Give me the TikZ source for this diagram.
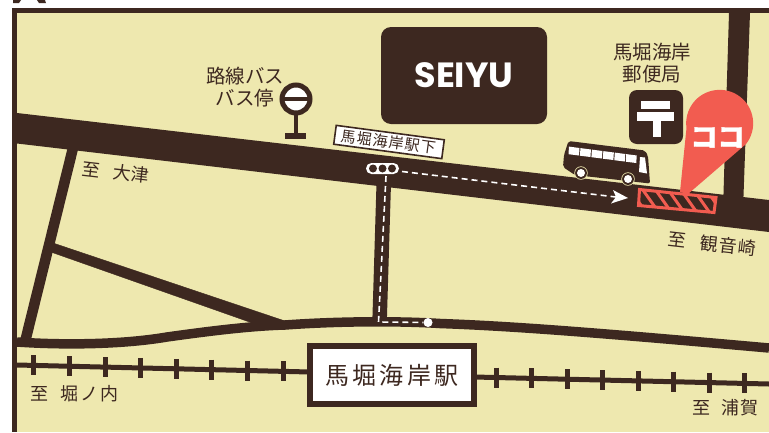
\documentclass[tikz,border=0pt]{standalone}
\usepackage{fontspec}
\setmainfont{Noto Sans CJK JP}
\newfontfamily\latinbold{Poppins}
\definecolor{ink}{HTML}{3D2820}
\definecolor{paper}{HTML}{EEE8AF}
\definecolor{coral}{HTML}{F25C50}
\tikzset{
 road/.style={draw=ink,line cap=butt},
 lbl/.style={text=ink,inner sep=0pt,font=\fontsize{18}{22}\selectfont,align=center},
 route/.style={draw=white,line width=1.6,dash pattern=on 6 off 4},
 tie/.style={draw=ink,line width=5},
}
\begin{document}
\begin{tikzpicture}[x=1pt,y=-1pt]
\useasboundingbox (0,0) rectangle (769,432);
\fill[white] (0,0) rectangle (769,432);
\fill[ink] (13,0) -- (21,0) -- (19,3) -- (13,3) -- cycle;
\fill[ink] (37,0) -- (45,0) -- (46,3) -- (39,3) -- cycle;
\fill[ink] (12,8) rectangle (769,432);
\fill[paper] (17,13) rectangle (769,432);
% vertical road right
\fill[ink] (729,13) -- (750,13) -- (743,210) -- (723,210) -- cycle;
% minor roads
\draw[road,line width=10.5] (73,148) -- (25,342);
\draw[ink,fill=ink] (50,241) -- (53,243) -- (285,321) -- (258,325) -- (48,251) -- cycle;
\draw[road,line width=14.5] (384,175) -- (379.5,324);
% main road
\fill[ink] (17,113) -- (769,200) -- (769,232) -- (17,143.5) -- cycle;
% curved road
\draw[road,line width=9.5] (17,342) .. controls (60,345) and (120,345) .. (167,337) .. controls (210,331) and (250,326) .. (285,325) .. controls (340,321) and (400,321) .. (440,323.5) .. controls (510,326) and (590,332) .. (769,348);
% rails
\draw[ink,line width=5] (17,365) -- (310,372);
\draw[ink,line width=5] (474,377) -- (769,384);
\foreach \x/\y in {33/365.4,69/366.3,105/367.1,140/367.9,176/368.8,211/369.6,247/370.5,283/371.3,496/377.5,531/378.3,567/379.2,602/380,638/380.8,673/381.7,709/382.5,744/383.4}
  \draw[tie] (\x,\y-10) -- (\x,\y+10);
% station
\node[draw=ink,line width=6,fill=white,minimum width=164,minimum height=58,inner sep=0pt,text=ink,font=\fontsize{24}{28}\selectfont,anchor=center] (station) at (392,375) {\addfontfeature{LetterSpace=13}馬堀海岸駅};
% seiyu
\node[fill=ink,rounded corners=10,minimum width=166,minimum height=97,inner sep=0pt,text=white] (seiyu) at (464,75.5) {\fontsize{35}{40}\selectfont\latinbold\bfseries SEIYU};
% bus stop
\node[lbl] (stoplabel) at (245,87) {\fontsize{19.5}{23}\selectfont 路線バス\\[0pt]\fontsize{19.5}{23}\selectfont バス停};
\fill[ink] (294,112) rectangle (298,134);
\fill[ink] (285,133) rectangle (306,138.5);
\draw[ink,line width=5,fill=white] (296,99) circle (14);
\fill[ink] (282,96.5) rectangle (310,101);
% post office
\node[lbl] (postlabel) at (652,63.5) {\fontsize{19.5}{21}\selectfont 馬堀海岸\\\fontsize{19.5}{21}\selectfont 郵便局};
\fill[ink,rounded corners=8] (629,90) rectangle (683,144);
\fill[white] (641,101) rectangle (670,109);
\fill[white] (637,112) rectangle (674,121);
\fill[white] (653,121) rectangle (661,137);
% bus
\fill[ink,rounded corners=2] (568.5,141) -- (645,150.5) -- (648,156) -- (650,183.5) -- (575,175) -- (563,167) -- (564,155) -- cycle;
\foreach \i in {0,...,5}{
 \fill[white] ({569+\i*11.45},{146.6+\i*1.5}) -- ({579.5+\i*11.45},{148+\i*1.5}) -- ({579+\i*11.45},{155.5+\i*1.5}) -- ({568.5+\i*11.45},{154.2+\i*1.5}) -- cycle;
}
\fill[white] (640,157) -- (645,157.5) -- (647,173.5) -- (639,172) -- cycle;
\foreach \x/\y in {581/173,628/179}{
 \fill[paper] (\x,\y) circle (6.7);
 \fill[ink] (\x,\y) circle (5.9);
 \fill[white] (\x,\y) circle (4);
}
% stop sign
\node[draw=ink,line width=1.6,fill=white,rotate=-7.6,minimum width=109,minimum height=19,inner sep=0pt,text=ink,font=\fontsize{15}{17}\selectfont] (sign) at (389,142) {\addfontfeature{LetterSpace=8}馬堀海岸駅下};
% signal
\fill[white,rounded corners=5.5] (366,163) rectangle (399,174);
\foreach \x in {373,382.5,392} \fill[ink] (\x,168.5) circle (4);
% routes
\coordinate (startA) at (402,171.5);
\coordinate (endA) at (616,197);
\coordinate (tipA) at (628,198);
\draw[route] (startA) -- (endA);
\fill[white] (tipA) -- (611,203.5) -- (616,197) -- (613,190) -- cycle;
\coordinate (startB) at (386,176);
\coordinate (cornerB) at (378.5,322);
\node[circle,fill=white,minimum size=9,inner sep=0pt] (dot) at (428,322.5) {};
\draw[route] (startB) -- (cornerB) -- (dot);
% hatched spot
\begin{scope}
\clip (639.5,189.5) -- (716,197.5) -- (714,212.5) -- (638.5,205.5) -- cycle;
\fill[ink] (630,180) rectangle (725,220);
\foreach \i in {0,...,7}
 \draw[coral,line width=3] ({626+\i*12.7},184) -- ({650+\i*12.7},218);
\end{scope}
\draw[coral,line width=3] (639.5,189.5) -- (716,197.5) -- (714,212.5) -- (638.5,205.5) -- cycle;
% pin
\fill[coral] (680,192) -- (686.5,128) arc[start angle=188,end angle=-38,radius=33.5,x radius=33.5,y radius=-33.5] -- (688,194) -- cycle;
\node[text=white,inner sep=0pt,font=\fontsize{27}{30}\selectfont\bfseries] (koko) at (717.5,137.5) {\addfontfeature{FakeBold=1.5}ココ};
% destinations
\node[lbl,font=\fontsize{18}{20}\selectfont,rotate=-6.5] (ootsu) at (116,172) {\addfontfeature{LetterSpace=2}至\hspace{0.7em}大津};
\node[lbl,rotate=-6.5] (kannon) at (712,244) {\addfontfeature{LetterSpace=6}至\hspace{0.8em}観音崎};
\node[lbl,font=\fontsize{18}{20}\selectfont] (horinouchi) at (74.5,394) {\addfontfeature{LetterSpace=12}至\hspace{0.7em}堀ノ内};
\node[lbl,font=\fontsize{18}{20}\selectfont] (uraga) at (725.5,408) {\addfontfeature{LetterSpace=7}至\hspace{0.6em}浦賀};
\end{tikzpicture}
\end{document}
